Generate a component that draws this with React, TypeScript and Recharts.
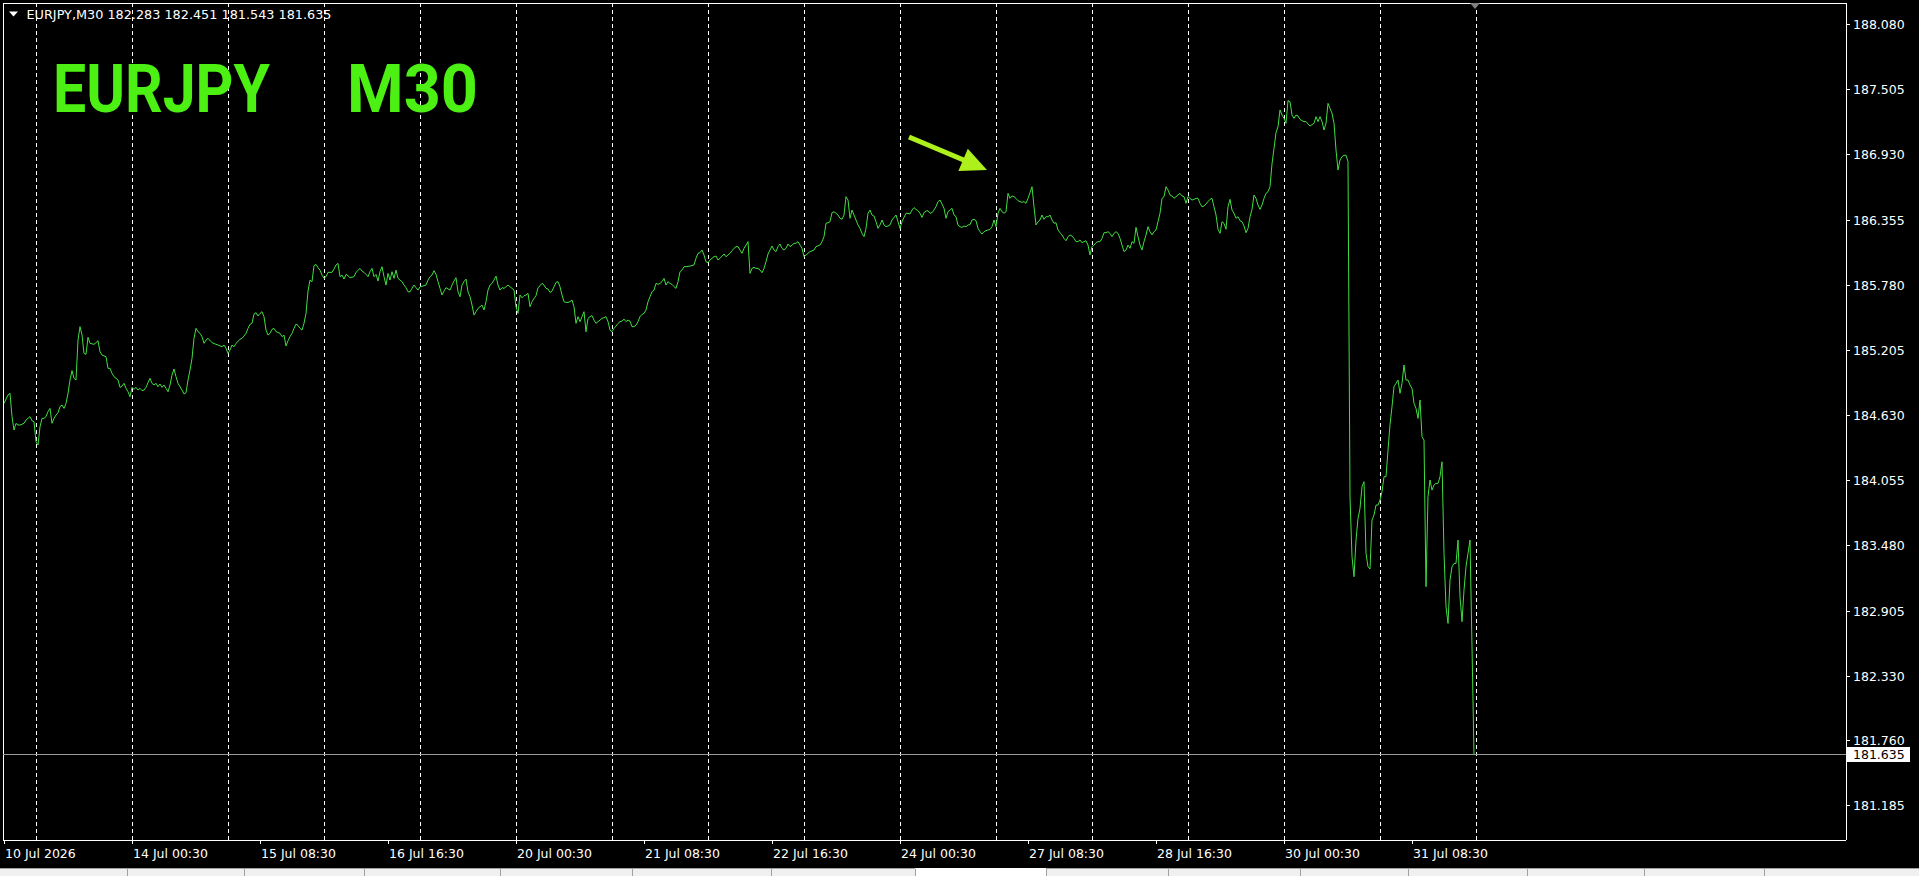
import { LineChart, Line, XAxis, YAxis, ReferenceLine } from 'recharts'

// M30 closes, [bar, close]; bar 0 = first bar on screen, 2px per bar
const segA: [number, number][] = [
  [0, 184.737], [2, 184.811], [3, 184.826], [4, 184.62], [5, 184.502], [6, 184.561], [7, 184.546], [8, 184.546],
  [10, 184.561], [11, 184.59], [13, 184.62], [14, 184.584], [15, 184.576], [16, 184.399], [17, 184.37], [18, 184.531],
  [19, 184.605], [20, 184.605], [21, 184.62], [22, 184.664], [23, 184.693], [24, 184.561], [25, 184.605], [26, 184.634],
  [27, 184.655], [28, 184.708], [29, 184.723], [30, 184.693], [31, 184.737], [32, 184.826], [33, 184.943], [34, 185.026],
  [35, 184.958], [36, 184.943], [37, 185.296], [38, 185.414], [39, 185.34], [40, 185.178], [41, 185.17], [42, 185.32],
  [43, 185.267], [45, 185.258], [46, 185.273], [47, 185.29], [48, 185.193], [49, 185.164], [51, 185.149], [52, 185.046],
  [53, 185.046], [54, 185.002], [55, 184.973], [57, 184.943], [58, 184.878], [59, 184.89], [60, 184.914], [61, 184.87],
  [62, 184.84], [63, 184.796], [64, 184.878], [65, 184.861], [66, 184.878], [67, 184.855], [68, 184.87], [69, 184.849],
  [70, 184.855], [71, 184.878], [72, 184.92], [73, 184.958], [74, 184.914], [75, 184.899], [76, 184.914], [77, 184.884],
  [78, 184.908], [79, 184.878], [80, 184.899], [81, 184.87], [82, 184.84], [83, 184.899], [84, 184.987], [85, 185.04],
  [86, 184.973], [87, 184.914], [89, 184.855], [90, 184.82], [91, 184.831], [92, 184.943], [93, 185.031], [94, 185.134],
  [95, 185.311], [96, 185.399], [97, 185.37], [98, 185.355], [99, 185.326], [100, 185.267], [101, 185.296], [102, 185.311],
  [104, 185.273], [106, 185.258], [107, 185.252], [109, 185.237], [110, 185.252], [111, 185.223], [112, 185.178], [113, 185.208],
  [114, 185.252], [115, 185.237], [116, 185.267], [118, 185.302], [119, 185.311], [120, 185.331], [121, 185.355], [122, 185.399],
  [123, 185.434], [124, 185.443], [125, 185.525], [126, 185.537], [127, 185.508], [128, 185.531], [129, 185.546], [130, 185.502],
  [131, 185.384], [132, 185.34], [133, 185.355], [134, 185.39], [135, 185.399], [136, 185.37], [138, 185.355], [139, 185.326],
  [140, 185.34], [141, 185.243], [142, 185.29], [143, 185.326], [144, 185.355], [145, 185.399], [146, 185.437], [147, 185.425],
  [148, 185.399], [149, 185.384], [150, 185.443], [151, 185.531], [152, 185.728],
]

const segB: [number, number][] = [
  [153, 185.825], [154, 185.811], [155, 185.952], [156, 185.963], [157, 185.934], [158, 185.913], [159, 185.869], [160, 185.84],
  [161, 185.855], [162, 185.893], [164, 185.893], [165, 185.922], [166, 185.958], [167, 185.972], [168, 185.855], [169, 185.869],
  [170, 185.834], [171, 185.875], [172, 185.863], [173, 185.846], [175, 185.855], [176, 185.893], [178, 185.928], [179, 185.905],
  [180, 185.893], [181, 185.875], [182, 185.855], [183, 185.899], [184, 185.928], [185, 185.855], [186, 185.875], [187, 185.816],
  [188, 185.899], [189, 185.943], [190, 185.855], [191, 185.781], [192, 185.884], [193, 185.825], [194, 185.899], [195, 185.84],
  [196, 185.913], [197, 185.84], [198, 185.825], [199, 185.811], [200, 185.781], [201, 185.758], [202, 185.722], [203, 185.722],
  [204, 185.752], [205, 185.781], [206, 185.758], [207, 185.737], [208, 185.766], [210, 185.775], [211, 185.781], [212, 185.825],
  [213, 185.855], [214, 185.869], [215, 185.908], [216, 185.875], [217, 185.811], [218, 185.752], [219, 185.693], [220, 185.728],
  [221, 185.758], [223, 185.737], [224, 185.781], [225, 185.816], [226, 185.846], [227, 185.722], [228, 185.678], [229, 185.781],
  [230, 185.811], [231, 185.834], [232, 185.722], [233, 185.678], [234, 185.605], [235, 185.516], [236, 185.546], [237, 185.575],
  [238, 185.59], [239, 185.605], [240, 185.561], [241, 185.634], [242, 185.737], [243, 185.781], [244, 185.796], [245, 185.825],
  [246, 185.86], [247, 185.781], [248, 185.737], [249, 185.758], [250, 185.752], [251, 185.766], [252, 185.781], [253, 185.766],
  [254, 185.752], [255, 185.737], [256, 185.59], [257, 185.531], [258, 185.693], [259, 185.669], [260, 185.687], [261, 185.693],
  [262, 185.708], [263, 185.59], [264, 185.634], [265, 185.663], [266, 185.687], [267, 185.758], [268, 185.775], [269, 185.796],
  [270, 185.781], [271, 185.752], [272, 185.746], [273, 185.716], [274, 185.728], [275, 185.766], [276, 185.805], [277, 185.811],
  [278, 185.766], [279, 185.693], [280, 185.634], [281, 185.628], [282, 185.628], [283, 185.634], [284, 185.649], [285, 185.59],
  [286, 185.443], [287, 185.502], [288, 185.458], [289, 185.502], [290, 185.546], [291, 185.369], [292, 185.487], [293, 185.502],
  [294, 185.511], [295, 185.472], [296, 185.443], [297, 185.458], [298, 185.472], [299, 185.487], [300, 185.493], [301, 185.502],
  [302, 185.458], [303, 185.384], [304, 185.369], [305, 185.399], [306, 185.419], [307, 185.443], [308, 185.458], [309, 185.463],
  [310, 185.481], [311, 185.458], [312, 185.472], [313, 185.463],
]

const segC: [number, number][] = [
  [314, 185.414], [315, 185.414], [316, 185.428], [317, 185.458], [318, 185.502], [319, 185.522], [320, 185.531], [321, 185.561],
  [322, 185.634], [323, 185.678], [324, 185.722], [325, 185.737], [326, 185.796], [327, 185.787], [328, 185.796], [329, 185.811],
  [330, 185.84], [331, 185.781], [332, 185.811], [333, 185.796], [334, 185.787], [335, 185.767], [336, 185.752], [337, 185.811],
  [338, 185.899], [339, 185.914], [340, 185.943], [341, 185.943], [343, 185.949], [345, 185.958], [346, 186.017], [347, 186.061],
  [348, 186.067], [349, 186.09], [350, 186.046], [351, 185.987], [352, 185.978], [353, 186.002], [354, 186.017], [355, 186.031],
  [356, 186.037], [357, 186.002], [358, 186.017], [359, 186.037], [360, 186.055], [361, 186.031], [362, 186.046], [363, 186.061],
  [364, 186.084], [365, 186.105], [366, 186.12], [367, 186.12], [368, 186.09], [369, 186.061], [370, 186.105], [371, 186.134],
  [372, 186.164], [373, 185.884], [374, 185.928], [375, 185.937], [376, 185.928], [377, 185.928], [378, 185.914], [379, 185.89],
  [380, 185.928], [381, 185.987], [382, 186.055], [383, 186.09], [384, 186.126], [385, 186.09], [386, 186.076], [387, 186.12],
  [388, 186.143], [389, 186.105], [390, 186.09], [391, 186.105], [392, 186.143], [393, 186.12], [394, 186.134], [395, 186.149],
  [396, 186.149], [397, 186.164], [398, 186.134], [399, 186.105], [400, 186.031], [401, 186.046], [403, 186.076], [405, 186.09],
  [406, 186.12], [408, 186.134], [409, 186.164], [410, 186.208], [411, 186.326], [412, 186.331], [413, 186.34], [414, 186.42],
  [415, 186.428], [416, 186.414], [417, 186.399], [418, 186.37], [419, 186.361], [420, 186.399], [421, 186.561], [422, 186.531],
  [423, 186.37], [424, 186.443], [425, 186.399], [426, 186.355], [427, 186.311], [428, 186.281], [429, 186.237], [430, 186.208],
  [431, 186.281], [432, 186.414], [433, 186.443], [434, 186.399], [435, 186.39], [436, 186.34], [437, 186.281], [438, 186.311],
  [439, 186.355], [440, 186.311], [441, 186.296], [442, 186.302], [443, 186.311], [444, 186.355], [445, 186.378], [446, 186.399],
  [447, 186.34], [448, 186.281], [449, 186.34], [450, 186.378], [451, 186.414], [452, 186.414], [453, 186.408], [454, 186.443],
  [455, 186.464], [456, 186.449], [457, 186.437], [458, 186.414], [459, 186.378], [460, 186.42], [461, 186.434], [462, 186.437],
  [463, 186.414], [464, 186.42], [465, 186.443], [466, 186.473], [467, 186.517], [468, 186.531], [469, 186.496], [470, 186.458],
  [471, 186.37], [472, 186.428], [473, 186.443], [474, 186.458], [475, 186.399], [476, 186.384], [477, 186.311], [478, 186.296],
  [479, 186.29], [480, 186.302], [481, 186.296], [482, 186.311], [483, 186.314],
]

const segD: [number, number][] = [
  [484, 186.355], [485, 186.361], [486, 186.349], [487, 186.281], [488, 186.252], [489, 186.231], [490, 186.252], [491, 186.261],
  [492, 186.267], [493, 186.272], [494, 186.296], [495, 186.355], [496, 186.296], [497, 186.414], [498, 186.458], [499, 186.428],
  [500, 186.414], [501, 186.428], [502, 186.59], [503, 186.546], [504, 186.567], [505, 186.561], [506, 186.546], [507, 186.525],
  [508, 186.517], [509, 186.511], [510, 186.517], [511, 186.502], [512, 186.546], [513, 186.596], [514, 186.649], [515, 186.472],
  [516, 186.311], [517, 186.34], [518, 186.355], [519, 186.399], [520, 186.361], [521, 186.384], [522, 186.384], [523, 186.399],
  [524, 186.355], [525, 186.326], [526, 186.331], [527, 186.267], [528, 186.243], [529, 186.223], [530, 186.193], [531, 186.172],
  [532, 186.208], [533, 186.223], [534, 186.214], [535, 186.193], [536, 186.164], [537, 186.164], [538, 186.179], [539, 186.155],
  [540, 186.164], [541, 186.172], [542, 186.134], [543, 186.046], [544, 186.12], [545, 186.134], [546, 186.155], [547, 186.164],
  [548, 186.164], [549, 186.193], [550, 186.243], [551, 186.243], [552, 186.252], [553, 186.237], [554, 186.208], [555, 186.237],
  [556, 186.252], [557, 186.237], [558, 186.193], [559, 186.134], [560, 186.076], [561, 186.09], [562, 186.134], [563, 186.105],
  [564, 186.164], [565, 186.149], [566, 186.29], [567, 186.208], [568, 186.134], [569, 186.09], [570, 186.164], [571, 186.223],
  [572, 186.296], [573, 186.252], [574, 186.223], [575, 186.252], [576, 186.267], [577, 186.34], [578, 186.414], [579, 186.546],
  [580, 186.561], [581, 186.649], [582, 186.62], [583, 186.576], [584, 186.567], [585, 186.546], [586, 186.561], [587, 186.576],
  [588, 186.59], [589, 186.567], [590, 186.561], [591, 186.502], [592, 186.561], [593, 186.546], [594, 186.531], [595, 186.537],
  [596, 186.546], [597, 186.546], [598, 186.502], [599, 186.472], [600, 186.478], [601, 186.496], [602, 186.517], [603, 186.537],
  [604, 186.546], [605, 186.472], [606, 186.399], [607, 186.273], [608, 186.237], [609, 186.34], [610, 186.325], [611, 186.273],
  [612, 186.472], [613, 186.537], [614, 186.443], [615, 186.414], [616, 186.37], [617, 186.384], [618, 186.349], [619, 186.34],
  [620, 186.302], [621, 186.243], [622, 186.281], [623, 186.384], [624, 186.449], [625, 186.575], [626, 186.546], [627, 186.487],
  [628, 186.449], [629, 186.487], [630, 186.546], [631, 186.59], [632, 186.605], [633, 186.649], [634, 186.85],
]

const segE: [number, number][] = [
  [635, 186.987], [636, 187.126], [637, 187.178], [638, 187.326], [639, 187.281], [640, 187.252], [641, 187.208], [642, 187.408],
  [643, 187.399], [644, 187.281], [645, 187.252], [646, 187.281], [647, 187.273], [648, 187.243], [649, 187.231], [650, 187.223],
  [651, 187.223], [652, 187.202], [653, 187.184], [654, 187.196], [655, 187.208], [656, 187.267], [657, 187.223], [658, 187.267],
  [659, 187.223], [660, 187.149], [661, 187.208], [662, 187.384], [663, 187.34], [664, 187.296], [665, 187.208], [666, 186.973],
  [667, 186.796], [668, 186.884], [669, 186.914], [670, 186.926], [671, 186.926], [672, 186.87], [673, 183.911], [674, 183.384],
  [675, 183.208], [676, 183.531], [677, 183.722], [678, 183.811], [679, 184.002], [680, 184.046], [681, 183.414], [682, 183.296],
  [683, 183.275], [684, 183.708], [685, 183.752], [686, 183.84], [687, 183.84], [688, 183.884], [689, 183.958], [690, 184.09],
  [691, 184.09], [692, 184.325], [693, 184.55], [694, 184.708], [695, 184.884], [696, 184.914], [697, 184.943], [698, 184.826],
  [699, 184.914], [700, 185.076], [701, 184.943], [702, 184.943], [703, 184.899], [704, 184.87], [705, 184.737], [706, 184.693],
  [707, 184.605], [708, 184.767], [709, 184.443], [710, 184.414], [711, 183.12], [712, 183.914], [713, 184.061], [714, 183.972],
  [715, 184.017], [716, 184.031], [717, 184.031], [718, 184.09], [719, 184.222], [720, 183.414], [721, 182.943], [722, 182.796],
  [723, 183.178], [724, 183.296], [725, 183.325], [726, 183.325], [727, 183.531], [728, 183.031], [729, 182.811], [730, 183.09],
  [731, 183.296], [732, 183.414], [733, 183.531], [734, 182.59], [735, 181.635],
]

const xTickBars = [0, 64, 128, 192, 256, 320, 384, 448, 512, 576, 640, 704]
const xTickLabels = [
  '10 Jul 2026', '14 Jul 00:30', '15 Jul 08:30', '16 Jul 16:30', '20 Jul 00:30', '21 Jul 08:30',
  '22 Jul 16:30', '24 Jul 00:30', '27 Jul 08:30', '28 Jul 16:30', '30 Jul 00:30', '31 Jul 08:30',
]
const daySeparators = [16, 64, 112, 160, 208, 256, 304, 352, 400, 448, 496, 544, 592, 640, 688, 736]
const priceTicks = [
  188.08, 187.505, 186.93, 186.355, 185.78, 185.205, 184.63, 184.055, 183.48, 182.905, 182.33, 181.76, 181.185,
]
const lastBarOhlc = [182.283, 182.451, 181.543, 181.635]
const lastClose = 181.635
const symbol = 'EURJPY'
const timeframe = 'M30'

const data = [...segA, ...segB, ...segC, ...segD, ...segE].map(([bar, close]) => ({ bar, close }))

const AXIS_FONT = 'DejaVu Sans, Verdana, sans-serif'

function XTick(props: any) {
  const { x, y, payload } = props
  const label = xTickLabels[xTickBars.indexOf(payload.value)]
  return (
    <text x={x + 1} y={y + 12} fill="#fff" fontSize={12.5} fontFamily={AXIS_FONT}>
      {label}
    </text>
  )
}

function YTick(props: any) {
  const { x, y, payload } = props
  return (
    <text x={x + 1} y={y} dy="0.36em" fill="#fff" fontSize={12.5} fontFamily={AXIS_FONT}>
      {Number(payload.value).toFixed(3)}
    </text>
  )
}

function PriceTag(props: any) {
  const vb = props.viewBox || {}
  const x = (vb.x ?? 3) + (vb.width ?? 1843) + 1
  const y = vb.y ?? 755
  return (
    <g>
      <rect x={x} y={y - 8} width={63} height={15} fill="#fff" />
      <text x={x + 6} y={y} dy="0.36em" fill="#000" fontSize={12.5} fontFamily={AXIS_FONT}>
        {lastClose.toFixed(3)}
      </text>
    </g>
  )
}

const tabStops = [127, 244, 364, 500, 632, 771, 915, 1046, 1168, 1300, 1408, 1527, 1644, 1764]

export default function App() {
  document.body.style.margin = '0'
  return (
    <div style={{ position: 'absolute', left: 0, top: 0, width: 1919, height: 876, background: '#000', overflow: 'hidden' }}>
      <LineChart width={1919} height={876} data={data} margin={{ top: 3, right: 0, bottom: 0, left: 3 }}>
        <XAxis
          dataKey="bar"
          type="number"
          domain={[-0.5, 921]}
          allowDataOverflow
          ticks={xTickBars}
          interval={0}
          height={36}
          tickSize={4}
          axisLine={{ stroke: '#fff', shapeRendering: 'crispEdges' }}
          tickLine={{ stroke: '#fff', shapeRendering: 'crispEdges' }}
          tick={(p: any) => <XTick {...p} />}
        />
        <YAxis
          orientation="right"
          type="number"
          domain={[180.885, 188.2695]}
          allowDataOverflow
          ticks={priceTicks}
          interval={0}
          width={73}
          tickSize={4}
          axisLine={{ stroke: '#fff', shapeRendering: 'crispEdges' }}
          tickLine={{ stroke: '#fff', shapeRendering: 'crispEdges' }}
          tick={(p: any) => <YTick {...p} />}
        />
        <ReferenceLine y={188.2695} stroke="#fff" shapeRendering="crispEdges" />
        <ReferenceLine x={-0.5} stroke="#fff" shapeRendering="crispEdges" />
        {daySeparators.map((b) => (
          <ReferenceLine key={b} x={b} stroke="#fff" strokeDasharray="4 3" shapeRendering="crispEdges" />
        ))}
        <ReferenceLine
          y={lastClose}
          stroke="#9a9a9a"
          shapeRendering="crispEdges"
          label={(p: any) => <PriceTag {...p} />}
        />
        <Line
          dataKey="close"
          type="linear"
          stroke="#40de40"
          strokeWidth={1}
          dot={false}
          activeDot={false}
          isAnimationActive={false}
        />
      </LineChart>
      <svg width={1919} height={876} style={{ position: 'absolute', left: 0, top: 0, pointerEvents: 'none' }}>
        <polygon points="9,11.5 18,11.5 13.5,16.5" fill="#fff" />
        <text x={26.5} y={18.7} fill="#fff" fontSize={12.5} fontFamily={AXIS_FONT} textLength={305} lengthAdjust="spacingAndGlyphs">
          {`${symbol},${timeframe}  ${lastBarOhlc.map((v) => v.toFixed(3)).join(' ')}`}
        </text>
        <text x={53} y={112} fill="#4cf012" fontSize={66} fontWeight={700} fontFamily="Roboto, sans-serif" textLength={217} lengthAdjust="spacingAndGlyphs">
          {symbol}
        </text>
        <text x={347} y={112} fill="#4cf012" fontSize={66} fontWeight={700} fontFamily="Roboto, sans-serif" textLength={131} lengthAdjust="spacingAndGlyphs">
          {timeframe}
        </text>
        <line x1={909} y1={137} x2={966} y2={161} stroke="#aef01c" strokeWidth={5} />
        <polygon points="987,170 958.4,171 967.8,148.8" fill="#aef01c" />
        <polygon points="1470,3 1480,3 1475,9" fill="#808080" />
        <rect x={0} y={868} width={1919} height={8} fill="#f0f0f0" />
        <rect x={916} y={868} width={130} height={8} fill="#fff" />
        <line x1={0} y1={868.5} x2={915} y2={868.5} stroke="#a0a0a0" />
        <line x1={1046} y1={868.5} x2={1919} y2={868.5} stroke="#a0a0a0" />
        {tabStops.map((t) => (
          <line key={t} x1={t + 0.5} y1={869} x2={t + 0.5} y2={876} stroke="#a0a0a0" />
        ))}
      </svg>
    </div>
  )
}
